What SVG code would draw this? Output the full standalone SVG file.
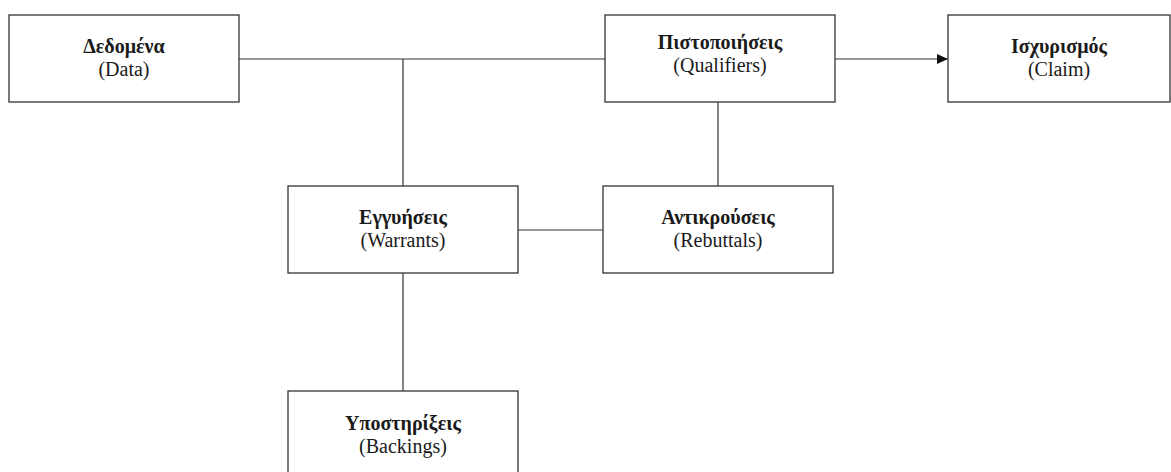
<svg xmlns="http://www.w3.org/2000/svg" width="1171" height="472" viewBox="0 0 1171 472">
<defs>
<style>
.box{fill:#fff;stroke:#333;stroke-width:1.3}
.conn{stroke:#333;stroke-width:1.2;fill:none}
.t1{font-family:"Liberation Serif","Times New Roman",serif;font-size:20px;font-weight:bold;fill:#1a1a1a;text-anchor:middle}
.t2{font-family:"Liberation Serif","Times New Roman",serif;font-size:20px;fill:#1a1a1a;text-anchor:middle}
</style>
<marker id="arr" markerWidth="11" markerHeight="10" refX="11" refY="5" orient="auto" markerUnits="userSpaceOnUse">
<path d="M0,0 L11,5 L0,10 Z" fill="#111"/>
</marker>
</defs>
<rect width="1171" height="472" fill="#fff"/>
<g id="connectors">
<line class="conn" x1="239" y1="59" x2="605" y2="59"/>
<line class="conn" x1="403" y1="59" x2="403" y2="186"/>
<line class="conn" x1="835" y1="59" x2="948" y2="59" marker-end="url(#arr)"/>
<line class="conn" x1="718" y1="102" x2="718" y2="186"/>
<line class="conn" x1="518" y1="230" x2="603" y2="230"/>
<line class="conn" x1="403" y1="273" x2="403" y2="391"/>
</g>
<g id="data">
<rect class="box" x="9" y="15" width="230" height="87"/>
<text class="t1" x="124" y="53">Δεδομένα</text>
<text class="t2" x="124" y="76">(Data)</text>
</g>
<g id="qualifiers">
<rect class="box" x="605" y="15" width="230" height="87"/>
<text class="t1" x="720" y="49">Πιστοποιήσεις</text>
<text class="t2" x="720" y="72">(Qualifiers)</text>
</g>
<g id="claim">
<rect class="box" x="948" y="15" width="222" height="87"/>
<text class="t1" x="1059" y="53">Ισχυρισμός</text>
<text class="t2" x="1059" y="76">(Claim)</text>
</g>
<g id="warrants">
<rect class="box" x="288" y="186" width="230" height="87"/>
<text class="t1" x="403" y="224">Εγγυήσεις</text>
<text class="t2" x="403" y="247">(Warrants)</text>
</g>
<g id="rebuttals">
<rect class="box" x="603" y="186" width="230" height="87"/>
<text class="t1" x="718" y="224">Αντικρούσεις</text>
<text class="t2" x="718" y="247">(Rebuttals)</text>
</g>
<g id="backings">
<rect class="box" x="288" y="391" width="230" height="87"/>
<text class="t1" x="403" y="430">Υποστηρίξεις</text>
<text class="t2" x="403" y="453">(Backings)</text>
</g>
</svg>
